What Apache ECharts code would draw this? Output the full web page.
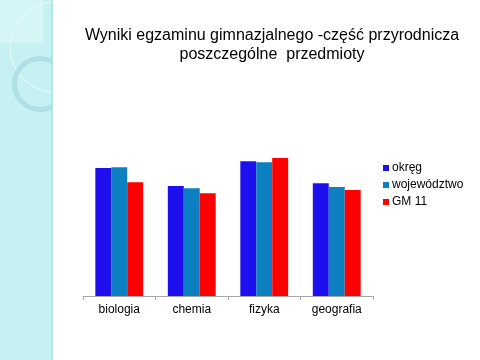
<!DOCTYPE html>
<html><head><meta charset="utf-8">
<script src="https://cdn.jsdelivr.net/npm/echarts@6/dist/echarts.min.js"></script>
<style>html,body{margin:0;padding:0;background:#fff}#c{width:480px;height:360px}</style>
</head><body><div id="c"></div>
<script>
var categories = ['biologia', 'chemia', 'fizyka', 'geografia'];
var okreg = [51.2, 44.0, 53.9, 45.1];
var wojewodztwo = [51.5, 43.1, 53.5, 43.6];
var gm11 = [45.5, 41.1, 55.2, 42.4];
var seriesNames = ['okręg', 'województwo', 'GM 11'];
var titleLines = ['Wyniki egzaminu gimnazjalnego -część przyrodnicza', 'poszczególne  przedmioty'];

var chart = echarts.init(document.getElementById('c'));
var font = 'Liberation Sans, Arial, sans-serif';
chart.setOption({
  backgroundColor: '#ffffff',
  animation: false,
  graphic: [
    {type: 'rect', shape: {x: 0, y: 0, width: 52, height: 360}, style: {fill: '#c6f1f3'}, z: -10},
    {type: 'rect', shape: {x: 51, y: 0, width: 2, height: 360}, style: {fill: '#b5e3e6'}, z: -9},
    {type: 'rect', shape: {x: 0, y: 0, width: 43, height: 43}, style: {fill: '#d6f5f6'}, z: -9},
    {type: 'group', z: -8, children: [
      {type: 'circle', shape: {cx: 55, cy: 47, r: 45}, style: {fill: 'none', stroke: '#eafbfb', lineWidth: 1}},
      {type: 'circle', shape: {cx: 40, cy: 84, r: 25.5}, style: {fill: 'none', stroke: '#a6d9dc', lineWidth: 5, opacity: 0.7}}
    ], clipPath: {type: 'rect', shape: {x: 0, y: 0, width: 52, height: 360}}},
    {type: 'text', style: {text: titleLines[0], fill: '#000', font: '16px ' + font, textAlign: 'center', textVerticalAlign: 'middle', x: 272, y: 36}, z: 10},
    {type: 'text', style: {text: titleLines[1], fill: '#000', font: '16px ' + font, textAlign: 'center', textVerticalAlign: 'middle', x: 272, y: 55}, z: 10}
  ],
  legend: {
    orient: 'vertical', left: 378, top: 157, itemWidth: 6, itemHeight: 6, itemGap: 5,
    icon: 'rect', textStyle: {fontFamily: font, fontSize: 12, color: '#000', padding: [0,0,0,-2]},
    data: seriesNames
  },
  grid: {left: 83, right: 107, top: 146, bottom: 64},
  xAxis: {
    type: 'category', data: categories,
    axisLine: {lineStyle: {color: '#a6a6a6'}},
    axisTick: {show: true, length: 4, lineStyle: {color: '#a6a6a6'}},
    axisLabel: {fontFamily: font, fontSize: 12, color: '#000', margin: 8}
  },
  yAxis: {type: 'value', min: 0, max: 60, show: false, splitLine: {show: false}},
  series: [
    {name: seriesNames[0], type: 'bar', data: okreg, barGap: '0%', barCategoryGap: '34%', itemStyle: {color: '#1e10ee'}},
    {name: seriesNames[1], type: 'bar', data: wojewodztwo, itemStyle: {color: '#0c80c0'}},
    {name: seriesNames[2], type: 'bar', data: gm11, itemStyle: {color: '#ff0000'}}
  ]
});
</script></body></html>
